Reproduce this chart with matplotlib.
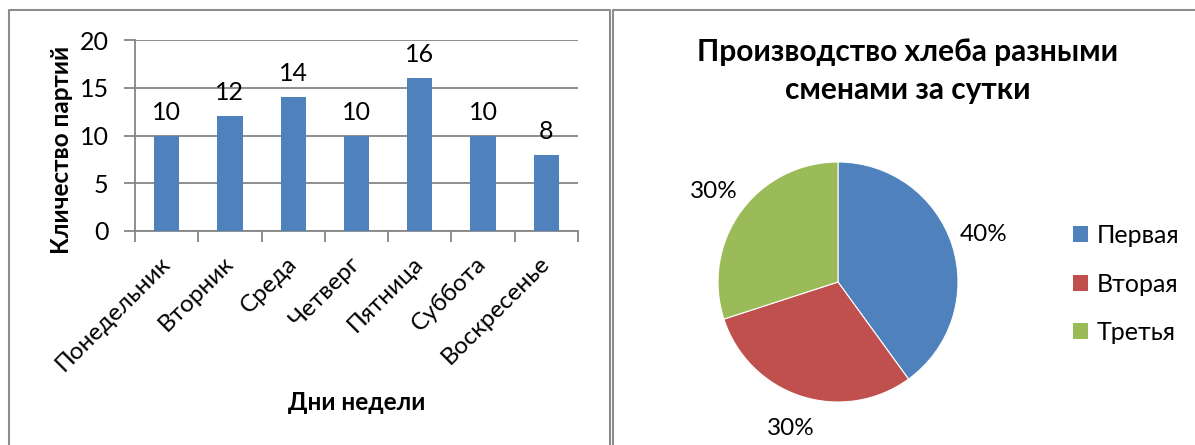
import matplotlib
matplotlib.use("Agg")
import matplotlib.pyplot as plt
from matplotlib.patches import Patch
from matplotlib.lines import Line2D
import numpy as np

plt.rcParams['font.family'] = ['Lato', 'Open Sans', 'DejaVu Sans']

# ---- data ----
days = ["Понедельник", "Вторник", "Среда", "Четверг", "Пятница", "Суббота", "Воскресенье"]
batches = [10, 12, 14, 10, 16, 10, 8]
y_ticks = [0, 5, 10, 15, 20]
shifts = ["Первая", "Вторая", "Третья"]
shares = [40, 30, 30]

bar_color = "#4F81BD"
pie_colors = ["#4F81BD", "#C0504D", "#9BBB59"]
grid_color = "#868686"

W, H = 1195, 445
fig = plt.figure(figsize=(W / 100, H / 100), dpi=100)

def box(x0, y0, x1, y1):
    return [x0 / W, 1 - y1 / H, (x1 - x0) / W, (y1 - y0) / H]

# ---- bar chart ----
ax = fig.add_axes(box(135, 40, 578, 231))
x = np.arange(len(days))
ax.bar(x, batches, width=0.4, color=bar_color, zorder=3)
ax.set_xlim(-0.5, len(days) - 0.5)
ax.set_ylim(0, 20)
ax.set_yticks(y_ticks)
ax.grid(axis='y', color=grid_color, linewidth=1.3, zorder=0)
for s in ['top', 'right']:
    ax.spines[s].set_visible(False)
for s in ['left', 'bottom']:
    ax.spines[s].set_color(grid_color)
    ax.spines[s].set_linewidth(1.3)
ax.tick_params(axis='y', length=8, width=1.3, color=grid_color, pad=11, labelsize=18)
ax.set_xticks(x)
ax.set_xticklabels(days, rotation=45, ha='right', va='center', rotation_mode='anchor', fontsize=17.5)
ax.tick_params(axis='x', which='major', length=0, pad=21)
ax.set_xticks(np.arange(len(days) + 1) - 0.5, minor=True)
ax.tick_params(axis='x', which='minor', length=8, width=1.3, color=grid_color)
for xi, v in zip(x, batches):
    ax.annotate(str(v), (xi, v), xytext=(0, 12), textcoords='offset pixels',
                ha='center', va='bottom', fontsize=18)
ax.set_ylabel("Кличество партий", fontsize=17.5, fontweight='bold')
ax.set_xlabel("Дни недели", fontsize=17.5, fontweight='bold')
ax.xaxis.set_label_coords(0.5, (231 - 391) / 191, transform=ax.transAxes)
ax.yaxis.set_label_coords((73 - 135) / 443, (231 - 150) / 191, transform=ax.transAxes)

# ---- pie chart ----
ax2 = fig.add_axes(box(718, 162, 958, 402))
wedges, texts, autotexts = ax2.pie(shares, colors=pie_colors, startangle=90, counterclock=False,
                                   autopct='%d%%', pctdistance=1.28, radius=1,
                                   wedgeprops=dict(linewidth=0.8, edgecolor='white'),
                                   textprops=dict(fontsize=17.5))
ax2.set_xlim(-1, 1)
ax2.set_ylim(-1, 1)
ax2.set_aspect('equal')

fig.text(908 / W, 1 - 71 / H, "Производство хлеба разными\nсменами за сутки",
         ha='center', va='center', fontsize=21.5, fontweight='bold', linespacing=1.4)

handles = [Patch(facecolor=c, edgecolor='none') for c in pie_colors]
fig.legend(handles, shifts, loc='center left', bbox_to_anchor=(1050 / W, 1 - 284 / H),
           frameon=False, fontsize=18, labelspacing=1.02, handlelength=0.62,
           handleheight=0.62, handletextpad=0.35)

# ---- panel borders ----
bc = "#8c8c8c"
def line(xs, ys):
    fig.add_artist(Line2D([v / W for v in xs], [1 - v / H for v in ys], color=bc, linewidth=1.5))
line([9, 9, 610, 610], [450, 10, 10, 450])
line([613, 613, 1200], [450, 10, 10])

fig.savefig("out.png", dpi=100, facecolor='white')
